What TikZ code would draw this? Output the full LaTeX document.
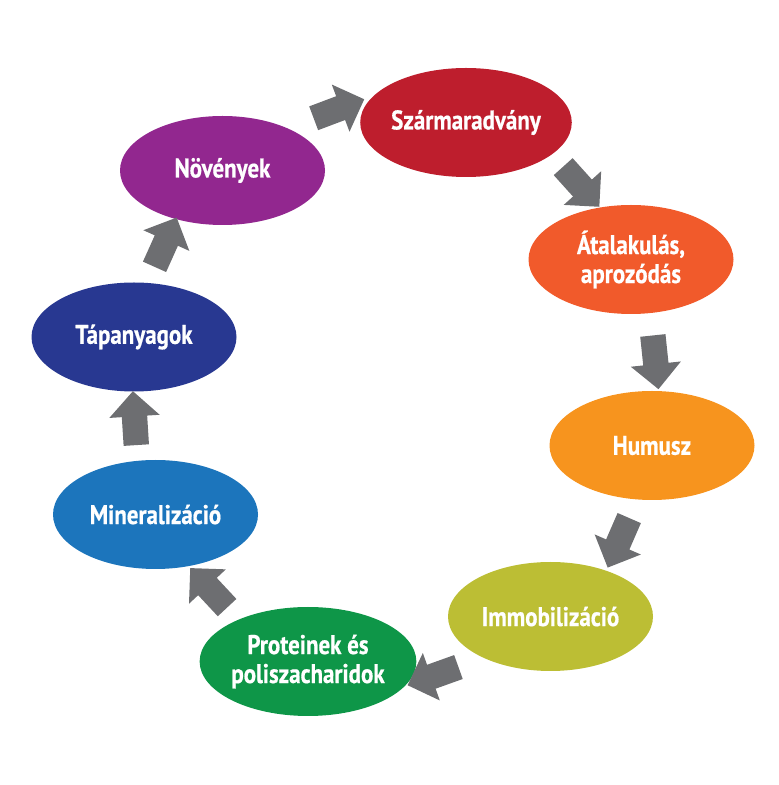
\documentclass[tikz,border=0pt]{standalone}
\usepackage{fontspec}
\setmainfont{PT Sans}[FakeStretch=0.85, BoldFeatures={FakeBold=0.6}]
\usepackage{tikz}
\usetikzlibrary{shapes.geometric,shapes.arrows,positioning,calc}

\definecolor{szred}{HTML}{BE1E2D}
\definecolor{novpurple}{HTML}{92278F}
\definecolor{atorange}{HTML}{F15A2B}
\definecolor{tapblue}{HTML}{283891}
\definecolor{humorange}{HTML}{F7941E}
\definecolor{minblue}{HTML}{1C75BC}
\definecolor{immolive}{HTML}{BCBE34}
\definecolor{protgreen}{HTML}{0E9648}
\definecolor{arrowgray}{HTML}{6D6E71}

\tikzset{
  cyclebox/.style={ellipse, inner sep=0pt, minimum width=205pt, minimum height=109pt,
    text=white, align=center, font=\fontsize{27}{29}\selectfont\bfseries},
  blockarrow/.style={single arrow, fill=arrowgray, inner xsep=0pt, inner ysep=12.5pt,
    minimum height=54pt, single arrow head extend=12.5pt, single arrow head indent=0pt}
}

\begin{document}
\begin{tikzpicture}[x=1pt,y=1pt]
\useasboundingbox (0,0) rectangle (779,785);
\node[cyclebox, fill=szred] (szar) at (466.0, 662.5) {Szármaradvány};
\node[cyclebox, fill=novpurple] (nov) at (222.5, 614.5) {Növények};
\node[cyclebox, fill=atorange] (atal) at (631.0, 525.5) {Átalakulás,\\aprozódás};
\node[cyclebox, fill=tapblue] (tap) at (134.0, 448.0) {Tápanyagok};
\node[cyclebox, fill=humorange] (hum) at (652.0, 339.5) {Humusz};
\node[cyclebox, fill=minblue] (min) at (155.5, 270.5) {Mineralizáció};
\node[cyclebox, fill=immolive] (imm) at (550.5, 168.5) {Immobilizáció};
\node[cyclebox, fill=protgreen] (prot) at (308.0, 123.5) {Proteinek és\\poliszacharidok};
% block arrows round the cycle
\node[blockarrow, rotate=20.6] (nov-szar) at (333, 674) {};
\node[blockarrow, rotate=-48] (szar-atal) at (577, 603) {};
\node[blockarrow, rotate=-84] (atal-hum) at (655, 429) {};
\node[blockarrow, rotate=-113.5] (hum-imm) at (621, 248) {};
\node[blockarrow, rotate=-160.3] (imm-prot) at (439, 111) {};
\node[blockarrow, rotate=133] (prot-min) at (213, 192.5) {};
\node[blockarrow, rotate=93.6] (min-tap) at (135, 360.5) {};
\node[blockarrow, rotate=65.8] (tap-nov) at (163, 537) {};
\end{tikzpicture}
\end{document}
